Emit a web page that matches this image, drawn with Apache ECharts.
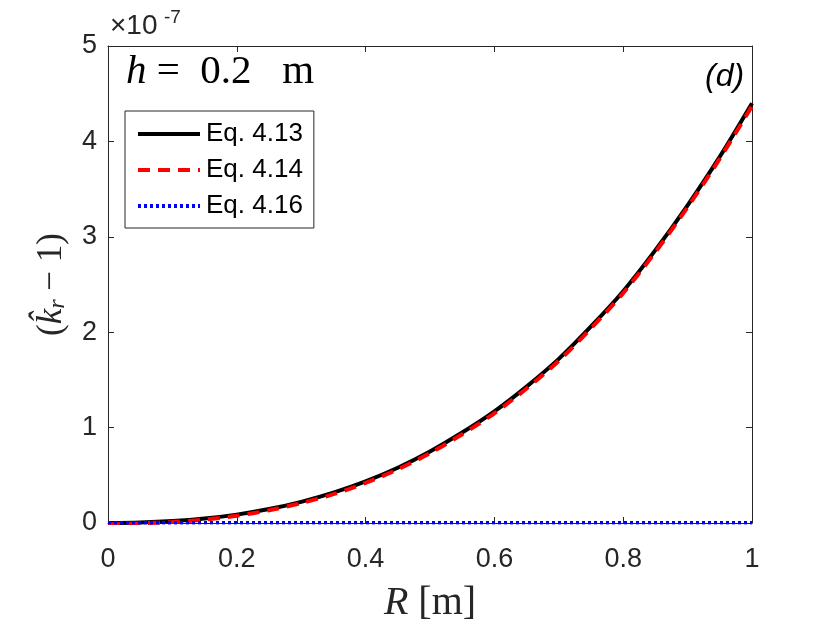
<!DOCTYPE html>
<html>
<head>
<meta charset="utf-8">
<script src="https://cdn.jsdelivr.net/npm/echarts@6/dist/echarts.min.js"></script>
<style>html,body{margin:0;padding:0;background:#fff;}#c{width:830px;height:623px;}</style>
</head>
<body>
<div id="c"></div>
<script>
// R [m]
const rValues = [0, 0.05, 0.1, 0.15, 0.2, 0.25, 0.3, 0.35, 0.4, 0.45, 0.5, 0.55, 0.6, 0.65, 0.7, 0.75, 0.8, 0.85, 0.9, 0.95, 1];
// (k_r - 1) in units of 1e-7
const eq413 = [0, 0.005, 0.02, 0.047, 0.088, 0.146, 0.222, 0.318, 0.436, 0.579, 0.75, 0.948, 1.17, 1.43, 1.72, 2.06, 2.43, 2.86, 3.33, 3.84, 4.40];
const eq414 = [-0.012, -0.004, 0.01, 0.036, 0.076, 0.133, 0.208, 0.302, 0.42, 0.562, 0.732, 0.93, 1.15, 1.41, 1.70, 2.04, 2.41, 2.84, 3.31, 3.82, 4.37];
const eq416 = [0.002, 0.002, 0.002, 0.002, 0.002, 0.002, 0.002, 0.002, 0.002, 0.002, 0.002, 0.002, 0.002, 0.002, 0.002, 0.002, 0.002, 0.002, 0.002, 0.002, 0.002];
const seriesNames = ['Eq. 4.13', 'Eq. 4.14', 'Eq. 4.16'];
const xTicks = [0, 0.2, 0.4, 0.6, 0.8, 1];
const yTicks = [0, 1, 2, 3, 4, 5];

const pairs = arr => rValues.map((r, i) => [r, arr[i]]);
const axisCol = '#262626';
const sans = 'Liberation Sans, Arial, sans-serif';
const serif = 'Liberation Serif, Times New Roman, serif';
const chart = echarts.init(document.getElementById('c'));
const tickFmt = v => (Math.abs(v) < 1e-9 ? '0' : String(+v.toFixed(1)));

chart.setOption({
  animation: false,
  backgroundColor: '#fff',
  grid: { left: 108, right: 78, top: 46, bottom: 100, containLabel: false, outerBoundsMode: 'none' },
  xAxis: [{
    type: 'value', min: xTicks[0], max: xTicks[xTicks.length - 1], interval: 0.2, position: 'bottom',
    axisLine: { show: true, onZero: false, lineStyle: { color: axisCol, width: 1 } },
    axisTick: { show: true, inside: true, length: 6, lineStyle: { color: axisCol } },
    axisLabel: { color: axisCol, fontSize: 27, fontFamily: sans, margin: 23, formatter: tickFmt },
    splitLine: { show: false },
    name: '{i|R}{n| [m]}', nameLocation: 'middle', nameGap: 60,
    nameTextStyle: { rich: {
      i: { fontFamily: serif, fontStyle: 'italic', fontSize: 40, color: axisCol },
      n: { fontFamily: serif, fontSize: 40, color: axisCol }
    } }
  }, {
    type: 'value', min: 0, max: 1, interval: 0.2, position: 'top',
    axisLine: { show: true, onZero: false, lineStyle: { color: axisCol, width: 1 } },
    axisTick: { show: true, inside: true, length: 6, lineStyle: { color: axisCol } },
    axisLabel: { show: false }, splitLine: { show: false }
  }],
  yAxis: [{
    type: 'value', min: yTicks[0], max: yTicks[yTicks.length - 1], interval: 1, position: 'left',
    axisLine: { show: true, onZero: false, lineStyle: { color: axisCol, width: 1 } },
    axisTick: { show: true, inside: true, length: 6, lineStyle: { color: axisCol } },
    axisLabel: { color: axisCol, fontSize: 27, fontFamily: sans, margin: 11 },
    splitLine: { show: false },
    name: '{n|(}{i|k\u0302}{s|r}{n| \u2212 1)}', nameLocation: 'middle', nameGap: 38, nameRotate: 90,
    nameTextStyle: { rich: {
      i: { fontFamily: serif, fontStyle: 'italic', fontSize: 35, color: axisCol },
      s: { fontFamily: serif, fontStyle: 'italic', fontSize: 24, color: axisCol, padding: [12, 0, 0, 0] },
      n: { fontFamily: serif, fontSize: 35, color: axisCol }
    } }
  }, {
    type: 'value', min: 0, max: 5, interval: 1, position: 'right',
    axisLine: { show: true, onZero: false, lineStyle: { color: axisCol, width: 1 } },
    axisTick: { show: true, inside: true, length: 6, lineStyle: { color: axisCol } },
    axisLabel: { show: false }, splitLine: { show: false }
  }],
  legend: {
    orient: 'vertical', left: 125, top: 111,
    data: seriesNames,
    backgroundColor: '#fff', borderColor: axisCol, borderWidth: 1, borderRadius: 0,
    padding: [10, 11, 9, 11], itemGap: 10, itemWidth: 62, itemHeight: 26,
    itemStyle: { color: 'rgba(0,0,0,0)', borderWidth: 0, opacity: 0 },
    lineStyle: { width: 4 },
    textStyle: { fontSize: 26, color: '#000', fontFamily: sans, padding: [0, 0, 0, 1] }
  },
  series: [{
    name: seriesNames[0], type: 'line', data: pairs(eq413), symbol: 'none', smooth: 0.3,
    lineStyle: { color: '#000', width: 4, type: 'solid' }, itemStyle: { color: '#000' }, z: 2
  }, {
    name: seriesNames[1], type: 'line', data: pairs(eq414), symbol: 'none', smooth: 0.3,
    lineStyle: { color: '#ff0000', width: 4, type: [12, 8] }, itemStyle: { color: '#ff0000' }, z: 3
  }, {
    name: seriesNames[2], type: 'line', data: pairs(eq416), symbol: 'none',
    lineStyle: { color: '#0000ff', width: 3.5, type: [3, 3] }, itemStyle: { color: '#0000ff' }, z: 4
  }],
  graphic: [
    { type: 'text', left: 110, top: 12, style: { text: '\u00d710', fontSize: 28, fontFamily: sans, fill: axisCol } },
    { type: 'text', left: 164, top: 8, style: { text: '-7', fontSize: 19, fontFamily: sans, fill: axisCol } },
    { type: 'text', left: 126, top: 52, style: {
      text: '{i|h}{n| =  0.2   m}',
      rich: {
        i: { fontFamily: serif, fontStyle: 'italic', fontSize: 41, fill: '#000' },
        n: { fontFamily: serif, fontSize: 41, fill: '#000' }
      } } },
    { type: 'text', left: 705, top: 61, style: { text: '(d)', fontSize: 32, fontStyle: 'italic', fontFamily: sans, fill: '#000' } }
  ]
});
</script>
</body>
</html>
